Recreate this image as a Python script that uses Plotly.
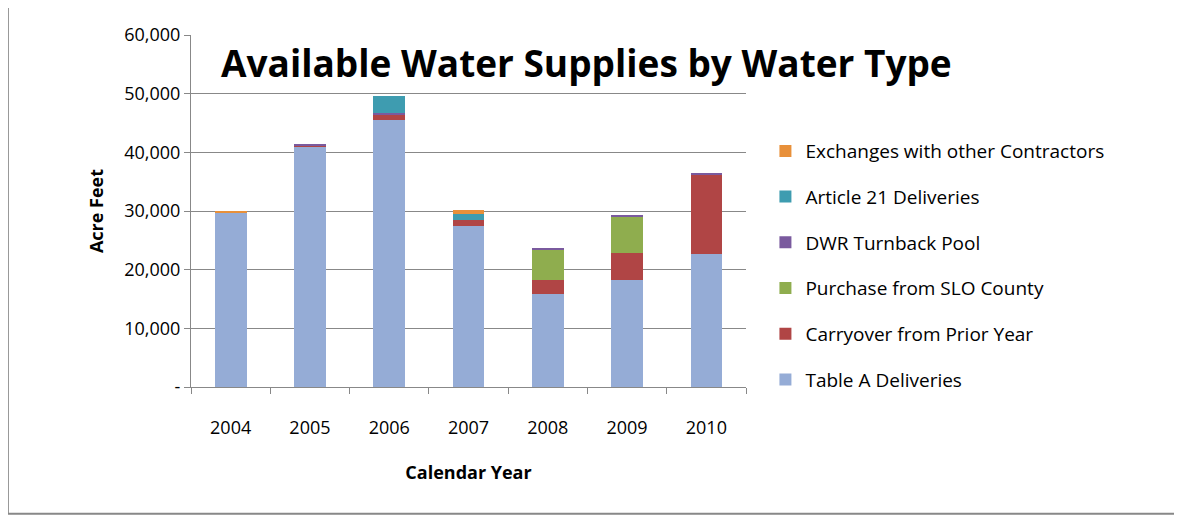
import plotly.graph_objects as go

years = ["2004", "2005", "2006", "2007", "2008", "2009", "2010"]
table_a = [29700, 41000, 45500, 27500, 15900, 18200, 22700]
carryover = [0, 200, 1000, 1000, 2400, 4700, 13500]
slo_county = [0, 0, 0, 0, 5100, 6100, 0]
dwr_pool = [0, 300, 200, 0, 300, 200, 300]
article21 = [0, 0, 2900, 1000, 0, 0, 0]
exchanges = [300, 0, 0, 700, 0, 0, 0]

series = [
    ("Table A Deliveries", table_a, "#95acd6"),
    ("Carryover from Prior Year", carryover, "#b04545"),
    ("Purchase from SLO County", slo_county, "#8fad4e"),
    ("DWR Turnback Pool", dwr_pool, "#7a5a9e"),
    ("Article 21 Deliveries", article21, "#3e9cb0"),
    ("Exchanges with other Contractors", exchanges, "#e8903a"),
]

fig = go.Figure()
for i, (name, vals, col) in enumerate(series):
    fig.add_trace(go.Bar(x=years, y=vals, name=name, marker_color=col,
                         marker_line_width=0, width=0.4, legendgroup=name,
                         legendrank=1000 - i))

fig.update_layout(
    barmode="stack",
    width=1182, height=520,
    paper_bgcolor="white", plot_bgcolor="white",
    font=dict(family="Open Sans, Liberation Sans", size=18, color="black"),
    margin=dict(l=183, r=444, t=27, b=141),
    legend=dict(x=1.035, y=0.345, yanchor="middle", traceorder="grouped",
                font=dict(size=19), itemwidth=30, tracegroupgap=18),
    showlegend=True,
    xaxis=dict(title=dict(text="<b>Calendar Year</b>", standoff=28,
                          font=dict(size=18)),
               showline=True, linecolor="#888", ticks="outside", tickson="boundaries",
               ticklen=6, tickcolor="#888", ticklabelstandoff=24),
    yaxis=dict(range=[0, 60000], tickvals=[0, 10000, 20000, 30000, 40000, 50000, 60000],
               ticktext=["-", "10,000", "20,000", "30,000", "40,000", "50,000", "60,000"],
               showgrid=True, gridcolor="#888", showline=True, linecolor="#888",
               ticks="outside", ticklen=6, tickcolor="#888",
               title=dict(text="<b>Acre Feet</b>", font=dict(size=18), standoff=15)),
    shapes=[dict(type="rect", xref="paper", yref="paper", x0=-0.33, x1=1.78,
                 y0=-0.36, y1=1.085, line=dict(color="#888", width=2))],
    annotations=[dict(text="<b>Available Water Supplies by Water Type</b>",
                      xref="paper", yref="paper", x=0.05, y=1.0, xanchor="left",
                      yanchor="top", showarrow=False,
                      font=dict(size=37, family="Open Sans, Liberation Sans"))],
)

fig.write_html("out.html")
